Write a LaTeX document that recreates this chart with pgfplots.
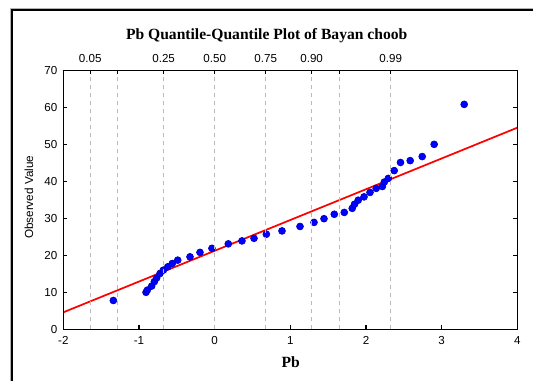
\documentclass[border=0pt]{standalone}
\usepackage{pgfplots}
\pgfplotsset{compat=1.18}
\usepackage{fontspec}
\setmainfont{Liberation Sans}
\newfontfamily\seriffont{Liberation Serif}
\begin{document}
\begin{tikzpicture}
\useasboundingbox (0,0) rectangle (399.75pt,285pt);
% outer frame
\draw[gray!60, line width=0.8pt] (8.2pt,-5pt) -- (8.2pt,278.3pt) -- (410pt,278.3pt);
\draw[black, line width=1.1pt] (9pt,-5pt) -- (9pt,277.5pt) -- (410pt,277.5pt);
% main axis
\begin{axis}[
  at={(47.5pt,38pt)}, anchor=south west,
  scale only axis, width=340.5pt, height=194.25pt,
  xmin=-2, xmax=4, ymin=0, ymax=70,
  xtick={-2,-1,0,1,2,3,4},
  ytick={0,10,20,30,40,50,60,70},
  xtick pos=bottom, ytick pos=both,
  tick align=inside,
  major tick length=3pt,
  axis line style={line width=1.1pt},
  every tick/.style={black, line width=0.9pt},
  tick label style={font=\fontsize{8.7}{10}\selectfont},
  /pgf/number format/assume math mode=true,
  xticklabel style={yshift=-2pt},
  yticklabel style={xshift=-1pt},
  clip=true,
]
\addplot[red, line width=1.3pt] coordinates {(-2,4.6) (4,54.5)};
\addplot[only marks, mark=*, mark size=2.6pt,
  mark options={fill=blue, draw=blue!70!black, line width=0.45pt}] coordinates {
(-1.339,7.8) (-0.907,10.0) (-0.890,10.6) (-0.832,11.7) (-0.797,12.9)
(-0.766,13.9) (-0.722,15.1) (-0.678,16.0) (-0.620,16.9) (-0.560,17.8)
(-0.488,18.7) (-0.326,19.6) (-0.194,20.8) (-0.036,21.9) (0.180,23.1)
(0.361,23.9) (0.520,24.6) (0.683,25.7) (0.890,26.6) (1.128,27.8)
(1.313,28.9) (1.445,29.9) (1.581,31.1) (1.713,31.6) (1.818,32.7)
(1.848,33.8) (1.897,34.9) (1.974,35.8) (2.053,37.0) (2.135,38.1)
(2.216,38.6) (2.242,39.8) (2.295,40.8) (2.373,42.9) (2.456,45.1)
(2.584,45.6) (2.743,46.7) (2.901,50.0) (3.298,60.8)
};
\end{axis}
% top probability axis with grid
\begin{axis}[
  at={(47.5pt,38pt)}, anchor=south west,
  scale only axis, width=340.5pt, height=194.25pt,
  xmin=-2, xmax=4, ymin=0, ymax=70,
  axis line style={draw=none},
  ytick=\empty,
  xtick={-1.6449,-1.2816,-0.6745,0,0.6745,1.2816,1.6449,2.3263},
  xticklabels={0.05,,0.25,0.50,0.75,0.90,,0.99},
  xtick pos=top, xticklabel pos=top,
  tick align=inside,
  major tick length=3pt,
  every tick/.style={black, line width=0.9pt},
  xmajorgrids,
  grid style={gray!55, dashed, line width=0.4pt},
  tick label style={font=\fontsize{8.7}{10}\selectfont},
  xticklabel style={yshift=2pt},
]
\end{axis}
% redraw frame of main axis on top of the grid
\draw[black, line width=1.1pt] (47.5pt,38pt) rectangle (388pt,232.25pt);
% titles
\node[font=\seriffont\bfseries\fontsize{11.7}{13}\selectfont] at (200pt,258.5pt) {Pb Quantile-Quantile Plot of Bayan choob};
\node[font=\seriffont\bfseries\fontsize{11.7}{13}\selectfont] at (218pt,13.5pt) {Pb};
\node[font=\fontsize{8.8}{10}\selectfont, rotate=90] at (21.75pt,137pt) {Observed Value};
\end{tikzpicture}
\end{document}
